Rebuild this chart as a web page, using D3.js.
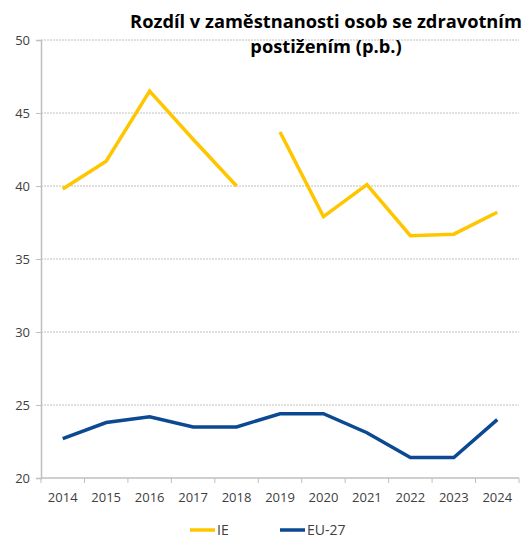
<!DOCTYPE html>
<html>
<head>
<meta charset="utf-8">
<script src="https://cdn.jsdelivr.net/npm/d3@7"></script>
<style>
  html, body { margin: 0; padding: 0; background: #fff; }
  svg { display: block; font-family: "Open Sans", "Noto Sans", sans-serif; }
</style>
</head>
<body>
<svg id="chart" width="529" height="538"></svg>
<script>
// Employment gap for persons with disabilities, percentage points
const years = ["2014", "2015", "2016", "2017", "2018", "2019", "2020", "2021", "2022", "2023", "2024"];
const ieValues = [39.8, 41.7, 46.5, 43.2, 40.0, 43.7, 37.9, 40.1, 36.6, 36.7, 38.2];
const euValues = [22.7, 23.8, 24.2, 23.5, 23.5, 24.4, 24.4, 23.1, 21.4, 21.4, 24.0];
// IE series has a break in the time series starting in this year
const ieBreakBefore = "2019";
const yTicks = [20, 25, 30, 35, 40, 45, 50];
const titleLines = ["Rozdíl v zaměstnanosti osob se zdravotním", "postižením (p.b.)"];
const seriesNames = ["IE", "EU-27"];

const svg = d3.select("#chart");
const margin = { left: 41, right: 10, top: 40, bottom: 60 };
const plotBottom = 478;

const x = d3.scaleBand().domain(years).range([margin.left, 519]).padding(0);
const y = d3.scaleLinear().domain([20, 50]).range([plotBottom, margin.top]);

const colors = { "IE": "#FFC600", "EU-27": "#0B4A92" };
const axisGray = "#BFBFBF";
const textColor = "#404040";

// horizontal gridlines
svg.append("g")
  .selectAll("line")
  .data(yTicks.filter(t => t !== 20))
  .join("line")
  .attr("x1", margin.left).attr("x2", 519)
  .attr("y1", d => y(d)).attr("y2", d => y(d))
  .attr("stroke", "#C0C0C0")
  .attr("stroke-width", 1)
  .attr("stroke-dasharray", "2,1");

// y axis
const yAxis = svg.append("g")
  .attr("transform", `translate(${margin.left},0)`)
  .call(d3.axisLeft(y).tickValues(yTicks).tickSize(5).tickPadding(6).tickFormat(d3.format("d")));
yAxis.select(".domain").attr("stroke", axisGray).attr("stroke-width", 1.5);
yAxis.selectAll(".tick line").attr("stroke", axisGray);
yAxis.selectAll(".tick text").attr("fill", textColor).style("font-size", "13px")
  .style("font-family", "'Open Sans', sans-serif");

// x axis with ticks between categories
const xAxis = svg.append("g").attr("transform", `translate(0,${plotBottom})`);
xAxis.append("line")
  .attr("x1", margin.left).attr("x2", 519)
  .attr("stroke", axisGray).attr("stroke-width", 1.5);
const boundaries = years.map(yr => x(yr)).concat([x(years[years.length - 1]) + x.bandwidth()]);
xAxis.selectAll("line.tk")
  .data(boundaries)
  .join("line")
  .attr("class", "tk")
  .attr("x1", d => d).attr("x2", d => d)
  .attr("y1", 0).attr("y2", 5)
  .attr("stroke", axisGray);
xAxis.selectAll("text")
  .data(years)
  .join("text")
  .attr("x", d => x(d) + x.bandwidth() / 2)
  .attr("y", 24)
  .attr("text-anchor", "middle")
  .attr("fill", textColor)
  .style("font-size", "13px")
  .text(d => d);

// lines
const cx = d => x(d) + x.bandwidth() / 2;
const line = d3.line().x(d => cx(d.year)).y(d => y(d.value));

const ieData = years.map((yr, i) => ({ year: yr, value: ieValues[i] }));
const breakIdx = years.indexOf(ieBreakBefore);
const ieSegments = [ieData.slice(0, breakIdx), ieData.slice(breakIdx)];
const euData = years.map((yr, i) => ({ year: yr, value: euValues[i] }));

svg.append("g").selectAll("path")
  .data(ieSegments)
  .join("path")
  .attr("d", line)
  .attr("fill", "none")
  .attr("stroke", colors["IE"])
  .attr("stroke-width", 3.5)
  .attr("stroke-linejoin", "miter");

svg.append("path")
  .datum(euData)
  .attr("d", line)
  .attr("fill", "none")
  .attr("stroke", colors["EU-27"])
  .attr("stroke-width", 3.5);

// title
const title = svg.append("g");
const titleX = 326;
titleLines.forEach((t, i) => {
  title.append("text")
    .attr("x", titleX)
    .attr("y", 28 + i * 25)
    .attr("text-anchor", "middle")
    .attr("fill", "#000")
    .style("font-size", "18px")
    .style("font-weight", "bold")
    .style("font-family", "'Open Sans', sans-serif")
    .text(t);
});
// fit first line to its width
const targetW = 392;
const firstLine = title.select("text").node();
const w0 = firstLine.getComputedTextLength();
const fs = 18 * targetW / w0;
title.selectAll("text").style("font-size", fs.toFixed(2) + "px");

// legend
const legend = svg.append("g").attr("transform", "translate(0,530)");
const legendItems = [
  { name: seriesNames[0], x: 190 },
  { name: seriesNames[1], x: 280 }
];
legendItems.forEach(it => {
  legend.append("line")
    .attr("x1", it.x).attr("x2", it.x + 25)
    .attr("y1", 0).attr("y2", 0)
    .attr("stroke", colors[it.name])
    .attr("stroke-width", 3.5);
  legend.append("text")
    .attr("x", it.x + 27)
    .attr("y", 5)
    .attr("fill", textColor)
    .style("font-size", "14px")
    .text(it.name);
});
</script>
</body>
</html>
